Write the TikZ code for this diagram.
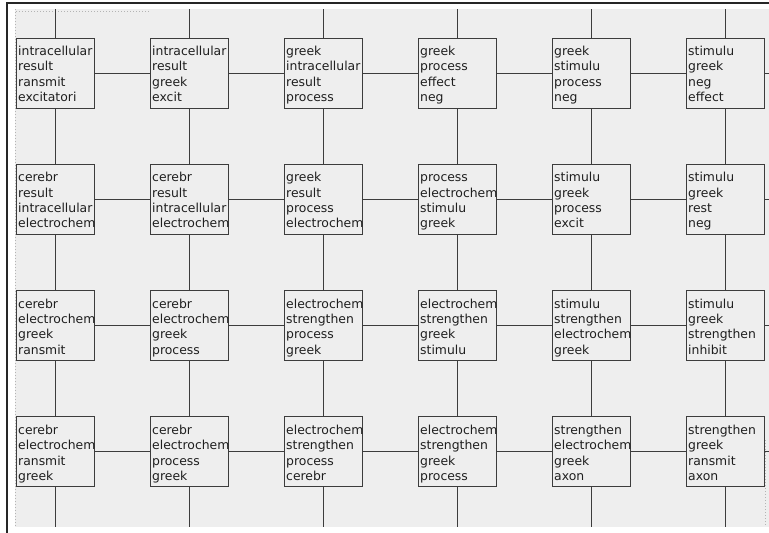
\documentclass[tikz,border=0pt]{standalone}
\usepackage{fontspec}
\setmainfont{DejaVu Sans}
\definecolor{bg}{HTML}{EEEEEE}
\definecolor{ln}{HTML}{3C3C3C}
\definecolor{dots}{HTML}{B4B4B4}
\tikzset{
  cell/.style={draw=ln, fill=bg, line width=1pt, minimum width=78pt, minimum height=70pt, inner sep=0pt},
  word/.style={anchor=base west, inner sep=0pt, font=\fontsize{12.4}{15}\selectfont, text=black!88},
  link/.style={draw=ln, line width=1pt},
  frameline/.style={draw=black!85, line width=1.4pt},
  dotted edge/.style={draw=dots, line width=0.8pt, dash pattern=on 1pt off 2pt}
}
\begin{document}
\begin{tikzpicture}[x=1pt,y=-1pt]
\useasboundingbox (0,0) rectangle (769,533);
\fill[white] (0,0) rectangle (769,533);
\fill[bg] (15,9) rectangle (769,526.5);
% frame
\coordinate (f1) at (7,533);
\coordinate (f2) at (7,3);
\coordinate (f3) at (769,3);
\draw[frameline] (f1) -- (f2) -- (f3);
% faint dotted edges
\coordinate (d1) at (15.5,9);
\coordinate (d2) at (15.5,526);
\coordinate (d3) at (16,11.5);
\coordinate (d4) at (150,11.5);
\coordinate (d5) at (765.5,440);
\coordinate (d6) at (765.5,526);
\draw[dotted edge] (d1) -- (d2);
\draw[dotted edge] (d3) -- (d4);
\draw[dotted edge] (d5) -- (d6);
% cells
\foreach \r/\c/\txa/\txb/\txc/\txd in {
 1/1/intracellular/result/ransmit/excitatori,
 1/2/intracellular/result/greek/excit,
 1/3/greek/intracellular/result/process,
 1/4/greek/process/effect/neg,
 1/5/greek/stimulu/process/neg,
 1/6/stimulu/greek/neg/effect,
 2/1/cerebr/result/intracellular/electrochem,
 2/2/cerebr/result/intracellular/electrochem,
 2/3/greek/result/process/electrochem,
 2/4/process/electrochem/stimulu/greek,
 2/5/stimulu/greek/process/excit,
 2/6/stimulu/greek/rest/neg,
 3/1/cerebr/electrochem/greek/ransmit,
 3/2/cerebr/electrochem/greek/process,
 3/3/electrochem/strengthen/process/greek,
 3/4/electrochem/strengthen/greek/stimulu,
 3/5/stimulu/strengthen/electrochem/greek,
 3/6/stimulu/greek/strengthen/inhibit,
 4/1/cerebr/electrochem/ransmit/greek,
 4/2/cerebr/electrochem/process/greek,
 4/3/electrochem/strengthen/process/cerebr,
 4/4/electrochem/strengthen/greek/process,
 4/5/strengthen/electrochem/greek/axon,
 4/6/strengthen/greek/ransmit/axon}
{
  \node[cell] (b\r\c) at ({55+134*(\c-1)},{73+126.33*(\r-1)}) {};
  \path (b\r\c.north west) ++(2.5,18) node[word] (w\r\c a) {\txa};
  \path (b\r\c.north west) ++(2.5,33.3) node[word] (w\r\c b) {\txb};
  \path (b\r\c.north west) ++(2.5,48.6) node[word] (w\r\c c) {\txc};
  \path (b\r\c.north west) ++(2.5,64) node[word] (w\r\c d) {\txd};
}
% vertical connectors
\foreach \c in {1,...,6} {
  \coordinate (top\c) at ({55+134*(\c-1)},9);
  \coordinate (bot\c) at ({55+134*(\c-1)},526.5);
  \draw[link] (top\c) -- (b1\c.north);
  \draw[link] (b4\c.south) -- (bot\c);
  \foreach \r/\s in {1/2,2/3,3/4} {
    \draw[link] (b\r\c.south) -- (b\s\c.north);
  }
}
% horizontal connectors
\foreach \r in {1,...,4} {
  \foreach \c/\n in {1/2,2/3,3/4,4/5,5/6} {
    \draw[link] (b\r\c.east) -- (b\r\n.west);
  }
  \coordinate (rt\r) at (769,{73+126.33*(\r-1)});
  \draw[link] (b\r6.east) -- (rt\r);
}
\end{tikzpicture}
\end{document}
